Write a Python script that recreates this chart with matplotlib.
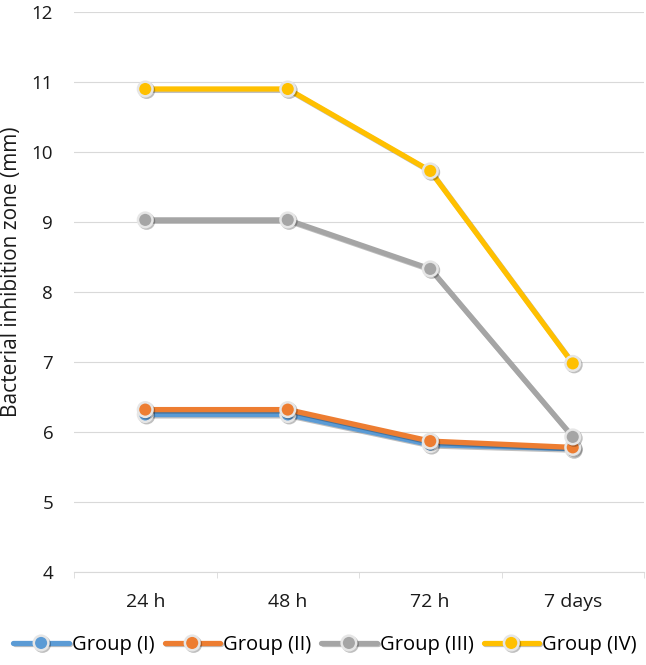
"""Bacterial inhibition zone over time, four groups."""
import matplotlib
matplotlib.use("Agg")
import matplotlib.pyplot as plt
import matplotlib.patheffects as pe

times = ["24 h", "48 h", "72 h", "7 days"]
group_1 = [6.25, 6.25, 5.82, 5.76]
group_2 = [6.32, 6.32, 5.87, 5.78]
group_3 = [9.03, 9.03, 8.33, 5.93]
group_4 = [10.90, 10.90, 9.73, 6.98]
labels = ["Group (I)", "Group (II)", "Group (III)", "Group (IV)"]
colors = ["#5B9BD5", "#ED7D31", "#A5A5A5", "#FFC000"]

plt.rcParams["font.family"] = ["Open Sans", "DejaVu Sans"]

fig = plt.figure(figsize=(6.46, 6.65), dpi=100)
ax = fig.add_axes([74 / 646, 1 - 572 / 665, 570 / 646, 560 / 665])

x = range(len(times))
shadow = [pe.SimpleLineShadow(offset=(1, -1), alpha=0.25), pe.Normal()]
for vals, lab, col in zip([group_1, group_2, group_3, group_4], labels, colors):
    ax.plot(x, vals, color=col, linewidth=3.8, marker="o", markersize=10.5,
            markerfacecolor=col, markeredgecolor="#E6E6E6", markeredgewidth=1.8,
            label=lab, path_effects=shadow, solid_capstyle="round", zorder=3)

ax.set_xlim(-0.5, 3.5)
ax.set_ylim(4, 12)
ax.set_yticks(range(4, 13))
ax.set_xticks(list(x))
ax.set_xticklabels(times)
ax.set_xticks([-0.5, 0.5, 1.5, 2.5, 3.5], minor=True)
ax.tick_params(axis="both", which="major", length=0, colors="#1a1a1a")
ax.tick_params(axis="x", which="major", pad=15, labelsize=14)
ax.tick_params(axis="y", which="major", pad=15, labelsize=13.5)
ax.tick_params(axis="x", which="minor", length=4, color="#D9D9D9")
ax.grid(axis="y", color="#D9D9D9", linewidth=0.8)
ax.set_axisbelow(True)
for s in ["top", "right", "left"]:
    ax.spines[s].set_visible(False)
ax.spines["bottom"].set_color("#D9D9D9")
ax.set_ylabel("Bacterial inhibition zone (mm)", fontsize=15, color="#1a1a1a")
ax.yaxis.set_label_coords(-0.091, 0.536)

ax.legend(loc="center", bbox_to_anchor=(325 / 646, 1 - 645 / 665),
          bbox_transform=fig.transFigure, ncol=4, frameon=False,
          fontsize=14.5, handlelength=2.75, handletextpad=0.15, columnspacing=0.5)

plt.savefig("out.png", dpi=100)
plt.close()
